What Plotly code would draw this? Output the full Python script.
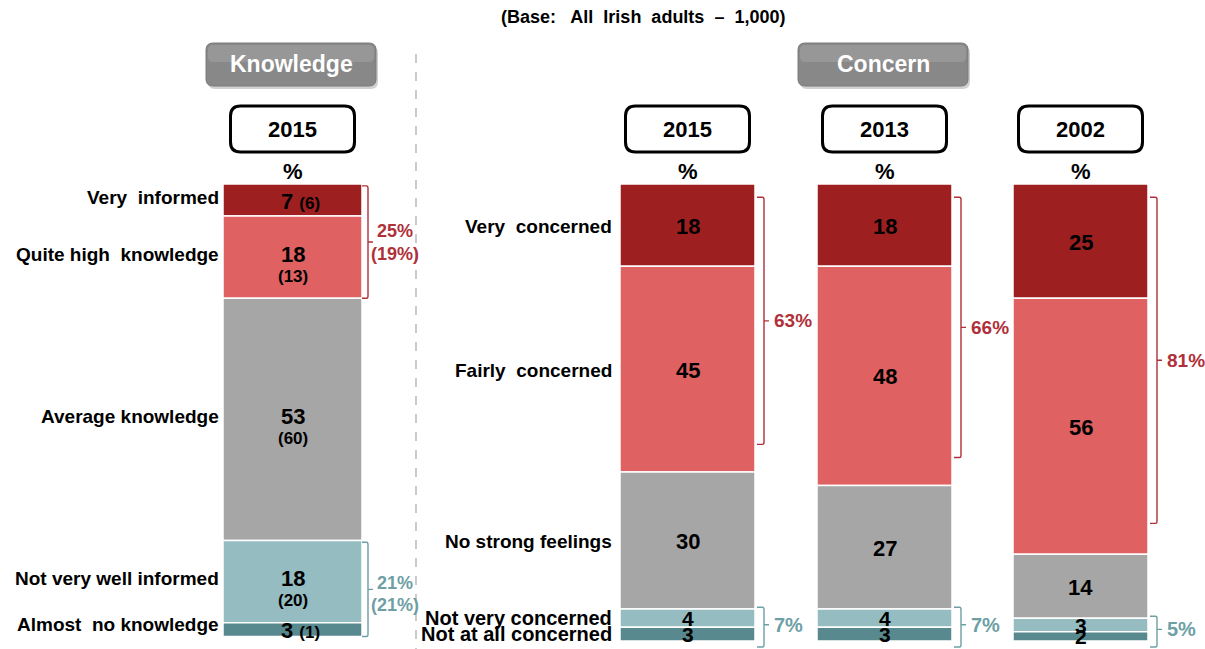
import plotly.graph_objects as go

# data
k_cats = ["Very  informed", "Quite high  knowledge", "Average knowledge",
          "Not very well informed", "Almost  no knowledge"]
k_2015 = [7, 18, 53, 18, 3]
k_prev = [6, 13, 60, 20, 1]

c_cats = ["Very  concerned", "Fairly  concerned", "No strong feelings",
          "Not very concerned", "Not at all concerned"]
c_years = ["2015", "2013", "2002"]
c_vals = {
    "2015": [18, 45, 30, 4, 3],
    "2013": [18, 48, 27, 4, 3],
    "2002": [25, 56, 14, 3, 2],
}

colors = ["#9E1F20", "#DF6161", "#A6A6A6", "#95BCC1", "#58898E"]
red_txt = "#B0303A"
teal_txt = "#6E9FA5"

W, H = 1205, 649
top_px = 184
scale = 4.57  # px per percent
FONT = "Liberation Sans, Arial, sans-serif"
NARROW = "Liberation Sans Narrow, Liberation Sans, Arial, sans-serif"

# bar geometry (pixel units on x)
k_x, k_w = 292.5, 139
c_x = [687.5, 884.5, 1080.5]
c_w = 135

fig = go.Figure()


def starts(vals):
    out, s = [], 0
    for v in vals:
        out.append(s)
        s += v
    return out


def add_bar(xc, w, vals):
    b = starts(vals)
    for i, v in enumerate(vals):
        fig.add_trace(go.Bar(
            x=[xc], y=[v], base=[b[i]], width=[w],
            marker=dict(color=colors[i], line=dict(color="white", width=1.5)),
            hoverinfo="skip",
        ))


add_bar(k_x, k_w, k_2015)
for xc, yr in zip(c_x, c_years):
    add_bar(xc, c_w, c_vals[yr])

ann = []
shapes = []


def txt(x, y, s, size, color="black", xanchor="center", yref="y2", family=FONT, yshift=0):
    ann.append(dict(x=x, y=y, xref="x", yref=yref, text=s, showarrow=False,
                    xanchor=xanchor, yanchor="middle", yshift=yshift,
                    font=dict(family=family, size=size, color=color)))


def rrect(x0, y0, x1, y1, r):
    return (f"M{x0+r},{y0} L{x1-r},{y0} Q{x1},{y0} {x1},{y0+r} L{x1},{y1-r} "
            f"Q{x1},{y1} {x1-r},{y1} L{x0+r},{y1} Q{x0},{y1} {x0},{y1-r} "
            f"L{x0},{y0+r} Q{x0},{y0} {x0+r},{y0} Z")


# header
txt(643, 17, "<b>(Base:   All  Irish  adults  –  1,000)</b>", 18)

# section buttons
for x0, x1, label in [(206, 376, "Knowledge"), (798, 968, "Concern")]:
    shapes.append(dict(type="path", xref="x", yref="y2", path=rrect(x0 + 2, 46, x1 + 2, 89, 7),
                       fillcolor="rgba(0,0,0,0.18)", line=dict(width=0), layer="below"))
    shapes.append(dict(type="path", xref="x", yref="y2", path=rrect(x0, 43, x1, 86, 7),
                       fillcolor="#888888", line=dict(color="#7A7A7A", width=1), layer="below"))
    shapes.append(dict(type="path", xref="x", yref="y2", path=rrect(x0 + 2, 45, x1 - 2, 62, 5),
                       fillcolor="rgba(255,255,255,0.13)", line=dict(width=0), layer="below"))
    txt((x0 + x1) / 2, 64, f"<b>{label}</b>", 23, color="white")

# year boxes and % signs
for xc, yr in [(k_x, "2015")] + list(zip(c_x, c_years)):
    shapes.append(dict(type="path", xref="x", yref="y2", path=rrect(xc - 62, 106, xc + 62, 152, 10),
                       fillcolor="white", line=dict(color="black", width=3)))
    txt(xc, 129, f"<b>{yr}</b>", 22)
    txt(xc, 171, "<b>%</b>", 22)

# dashed divider
shapes.append(dict(type="line", xref="x", yref="y2", x0=416, x1=416, y0=54, y1=649,
                   line=dict(color="#A8A8A8", width=1.2, dash="dash")))

# knowledge labels and values
kb = starts(k_2015)
for i, (cat, v, p) in enumerate(zip(k_cats, k_2015, k_prev)):
    mid = kb[i] + v / 2
    txt(221, mid, f"<b>{cat}</b>", 19, xanchor="right", yref="y",
        yshift=5 if i == 4 else 3)
    if v < 10:
        txt(k_x + 8, mid, f"<b>{v} <span style='font-size:17px'>({p})</span></b>", 22,
            yref="y", yshift=-1)
    else:
        txt(k_x, mid, f"<b>{v}</b>", 22, yref="y", yshift=3)
        txt(k_x, mid, f"<b>({p})</b>", 17, yref="y", yshift=-19)

# concern labels and values
cb0 = starts(c_vals["2015"])
for i, cat in enumerate(c_cats):
    mid = cb0[i] + c_vals["2015"][i] / 2
    if i < 3:
        txt(614, mid, f"<b>{cat}</b>", 19, xanchor="right", yref="y", yshift=-1)
    else:
        txt(614, mid, f"<b>{cat}</b>", 20, xanchor="right", yref="y", family=NARROW)
for xc, yr in zip(c_x, c_years):
    vals = c_vals[yr]
    b = starts(vals)
    for i, v in enumerate(vals):
        mid = b[i] + v / 2
        if v < 10:
            txt(xc, mid, f"<b>{v}</b>", 21, yref="y", family=NARROW)
        else:
            txt(xc, mid, f"<b>{v}</b>", 22, yref="y", yshift=-1)


def bracket(x0, x1, y0, y1, color, ytip=None):
    if ytip is None:
        ytip = (y0 + y1) / 2
    d = 0.5
    path = (f"M{x0},{y0} L{x1-1.5},{y0} Q{x1},{y0} {x1},{y0+d} L{x1},{y1-d} "
            f"Q{x1},{y1} {x1-1.5},{y1} L{x0},{y1} M{x1},{ytip} L{x1+5},{ytip}")
    shapes.append(dict(type="path", xref="x", yref="y", path=path,
                       line=dict(color=color, width=1.4)))


# knowledge nets
k_top = k_2015[0] + k_2015[1]
k_top_p = k_prev[0] + k_prev[1]
k_bot = k_2015[3] + k_2015[4]
k_bot_p = k_prev[3] + k_prev[4]
bx0 = k_x + k_w / 2
bracket(bx0, bx0 + 6, 0.4, kb[2], red_txt)
txt(395, kb[2] / 2 - 2.2, f"<b>{k_top}%</b>", 18, color=red_txt, yref="y")
txt(395, kb[2] / 2 + 2.8, f"<b>({k_top_p}%)</b>", 18, color=red_txt, yref="y")
bracket(bx0, bx0 + 6, kb[3] + 0.4, sum(k_2015), teal_txt)
txt(395, kb[3] + k_bot / 2 - 1.3, f"<b>{k_bot}%</b>", 18, color=teal_txt, yref="y")
txt(395, kb[3] + k_bot / 2 + 3.7, f"<b>({k_bot_p}%)</b>", 18, color=teal_txt, yref="y")

# concern nets
for xc, yr in zip(c_x, c_years):
    vals = c_vals[yr]
    b = starts(vals)
    top_net = vals[0] + vals[1]
    bot_net = vals[3] + vals[4]
    x0 = xc + c_w / 2 + 2
    x1 = x0 + 7
    y0, y1 = 2.9, top_net - 3.5 - top_net * 0.04
    bracket(x0, x1, y0, y1, red_txt)
    txt(x1 + 8, (y0 + y1) / 2, f"<b>{top_net}%</b>", 19, color=red_txt, yref="y",
        xanchor="left")
    y0, y1 = b[3] - 0.4, 101.3
    bracket(x0, x1, y0, y1, teal_txt, ytip=(y0 + y1) / 2 - 0.5)
    txt(x1 + 8, (y0 + y1) / 2 - 0.5, f"<b>{bot_net}%</b>", 20, color=teal_txt, yref="y",
        family=NARROW, xanchor="left")

fig.update_layout(
    width=W, height=H, autosize=False,
    margin=dict(l=0, r=0, t=0, b=0),
    paper_bgcolor="white", plot_bgcolor="white",
    showlegend=False, barmode="overlay",
    xaxis=dict(range=[0, W], visible=False, fixedrange=True),
    yaxis=dict(range=[(H - top_px) / scale, -top_px / scale], visible=False, fixedrange=True),
    yaxis2=dict(range=[H, 0], overlaying="y", visible=False, fixedrange=True),
    annotations=ann, shapes=shapes,
)
# invisible trace so yaxis2 is active
fig.add_trace(go.Scatter(x=[0], y=[0], yaxis="y2", mode="markers",
                         marker=dict(opacity=0), hoverinfo="skip"))
fig.write_html("out.html", config={"displayModeBar": False},
               post_script="document.body.style.margin='0';document.body.style.overflow='hidden';")
